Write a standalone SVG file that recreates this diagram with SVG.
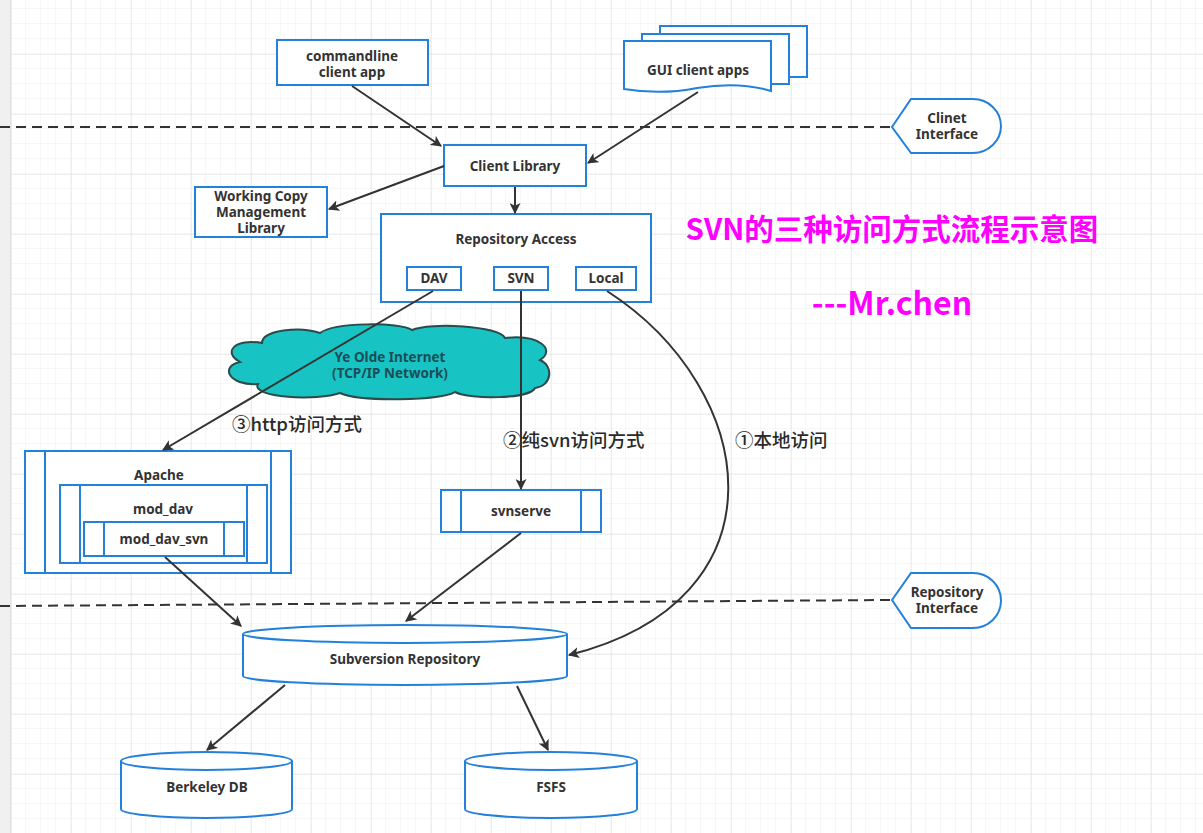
<svg xmlns="http://www.w3.org/2000/svg" width="1203" height="833" viewBox="0 0 1203 833">
<defs>
<pattern id="minor" width="15" height="15" patternUnits="userSpaceOnUse" x="11" y="-6">
<path d="M15,0 V15 M0,15 H15" fill="none" stroke="#eeeeee" stroke-width="1"/>
</pattern>
<pattern id="major" width="60" height="60" patternUnits="userSpaceOnUse" x="11" y="-6">
<path d="M0,0 V60 M0,0 H60" fill="none" stroke="#dddddd" stroke-width="1"/>
</pattern>
<marker id="arr" viewBox="0 0 10 10" refX="9" refY="5" markerWidth="11" markerHeight="11" markerUnits="userSpaceOnUse" orient="auto">
<path d="M0,0 L10,5 L0,10 L2.5,5 Z" fill="#333"/>
</marker>
</defs>
<style>
.box{fill:#fff;stroke:#2381db;stroke-width:2}
.ln{fill:none;stroke:#2381db;stroke-width:2}
.t{font-family:"Noto Sans","Noto Sans CJK SC",sans-serif;font-weight:bold;font-size:13.5px;fill:#333;text-anchor:middle}
.c{fill:none;stroke:#333;stroke-width:2;marker-end:url(#arr)}
.dash{fill:none;stroke:#333;stroke-width:2;stroke-dasharray:10 6}
.lab{font-family:"Noto Sans CJK SC","Noto Sans",sans-serif;font-size:18.5px;font-weight:500;fill:#2a2a2a}
.title{font-family:"Noto Sans CJK SC","Noto Sans",sans-serif;font-weight:bold;fill:#ff00ff;text-anchor:middle}
</style>
<rect width="1203" height="833" fill="#fff"/>
<rect width="1203" height="833" fill="url(#minor)"/>
<rect width="1203" height="833" fill="url(#major)"/>
<rect x="0" y="0" width="10" height="833" fill="#f0f0f0"/>
<line x1="10.5" y1="0" x2="10.5" y2="833" stroke="#e0e0e0"/>

<g id="separators">
<path class="dash" d="M0,127 H892"/>
<path class="dash" d="M0,606 L892,600"/>
</g>

<g id="commandline">
<rect class="box" x="277" y="40" width="151" height="45"/>
<text class="t" x="352" y="61">commandline</text>
<text class="t" x="352" y="77">client app</text>
</g>

<g id="gui">
<rect class="box" x="660" y="26" width="147" height="51"/>
<rect class="box" x="642" y="34" width="147" height="50"/>
<path class="box" d="M624,41 H771 V91 C748,84 722,84 697,88 C672,93 648,93 624,89 Z"/>
<text class="t" x="698" y="75">GUI client apps</text>
</g>

<g id="clinet-interface">
<path class="box" d="M892,127 L911,99 H973 A28,27 0 0 1 973,153 H911 Z"/>
<text class="t" x="947" y="123">Clinet</text>
<text class="t" x="947" y="139">Interface</text>
</g>

<g id="client-library">
<rect class="box" x="444" y="145" width="142" height="41"/>
<text class="t" x="515" y="171">Client Library</text>
</g>

<g id="wc-library">
<rect class="box" x="195" y="187" width="132" height="50"/>
<text class="t" x="261" y="201">Working Copy</text>
<text class="t" x="261" y="217">Management</text>
<text class="t" x="261" y="233">Library</text>
</g>

<g id="repository-access">
<rect class="box" x="381" y="214" width="270" height="88"/>
<text class="t" x="516" y="244">Repository Access</text>
<rect class="box" x="407" y="267" width="54" height="23"/>
<text class="t" x="434" y="283">DAV</text>
<rect class="box" x="494" y="267" width="54" height="23"/>
<text class="t" x="521" y="283">SVN</text>
<rect class="box" x="576" y="267" width="60" height="23"/>
<text class="t" x="606" y="283">Local</text>
</g>

<g id="title">
<text class="title" x="892" y="240" font-size="29.5">SVN的三种访问方式流程示意图</text>
<text class="title" x="892" y="315" font-size="32">---Mr.chen</text>
</g>

<g id="cloud">
<path d="M262,343 C262,330 300,326 320,333 C335,322 400,322 412,330 C430,322 500,326 505,338 C540,334 556,350 540,360 C554,366 552,386 535,388 C530,399 470,400 455,392 C440,401 360,402 340,393 C318,401 250,398 258,384 C228,386 220,366 240,362 C222,352 235,338 262,343 Z" fill="#17c3c3" stroke="#2c4a4a" stroke-width="2"/>
<text class="t" x="390" y="362" style="fill:#1d4d57">Ye Olde Internet</text>
<text class="t" x="390" y="378" style="fill:#1d4d57">(TCP/IP Network)</text>
</g>

<g id="labels">
<text class="lab" x="232" y="431">③http访问方式</text>
<text class="lab" x="503" y="447">②纯svn访问方式</text>
<text class="lab" x="735" y="447">①本地访问</text>
</g>

<g id="apache">
<rect class="box" x="25" y="451" width="266" height="122"/>
<path class="ln" d="M45,451 V573 M271,451 V573"/>
<text class="t" x="159" y="480">Apache</text>
<rect class="box" x="60" y="485" width="207" height="78"/>
<path class="ln" d="M80,485 V563 M247,485 V563"/>
<text class="t" x="163" y="514">mod_dav</text>
<rect class="box" x="84" y="522" width="160" height="34"/>
<path class="ln" d="M104,522 V556 M224,522 V556"/>
<text class="t" x="164" y="544">mod_dav_svn</text>
</g>

<g id="svnserve">
<rect class="box" x="441" y="490" width="160" height="42"/>
<path class="ln" d="M461,490 V532 M581,490 V532"/>
<text class="t" x="521" y="516">svnserve</text>
</g>

<g id="repository-interface">
<path class="box" d="M892,600 L911,573 H973 A28,27.5 0 0 1 973,628 H911 Z"/>
<text class="t" x="947" y="597">Repository</text>
<text class="t" x="947" y="613">Interface</text>
</g>

<g id="subversion-repository">
<path class="box" d="M243,634 A162,9 0 0 1 567,634 V676 A162,9 0 0 1 243,676 Z"/>
<path class="ln" d="M243,634 A162,9 0 0 0 567,634"/>
<text class="t" x="405" y="664">Subversion Repository</text>
</g>

<g id="berkeley-db">
<path class="box" d="M121,761 A85.5,9 0 0 1 292,761 V809 A85.5,9 0 0 1 121,809 Z"/>
<path class="ln" d="M121,761 A85.5,9 0 0 0 292,761"/>
<text class="t" x="207" y="792">Berkeley DB</text>
</g>

<g id="fsfs">
<path class="box" d="M465,761 A86,9 0 0 1 637,761 V809 A86,9 0 0 1 465,809 Z"/>
<path class="ln" d="M465,761 A86,9 0 0 0 637,761"/>
<text class="t" x="551" y="792">FSFS</text>
</g>

<g id="connectors">
<path class="c" d="M352,86 L441,146"/>
<path class="c" d="M698,92 L588,163"/>
<path class="c" d="M444,166 L329,209"/>
<path class="c" d="M515,187 V213"/>
<path class="c" d="M433,291 L163,450"/>
<path class="c" d="M521,291 V489"/>
<path class="c" d="M607,291 C760,390 790,600 569,655"/>
<path class="c" d="M165,557 L241,626"/>
<path class="c" d="M521,533 L406,621"/>
<path class="c" d="M285,685 L207,750"/>
<path class="c" d="M517,686 L548,750"/>
</g>
</svg>
